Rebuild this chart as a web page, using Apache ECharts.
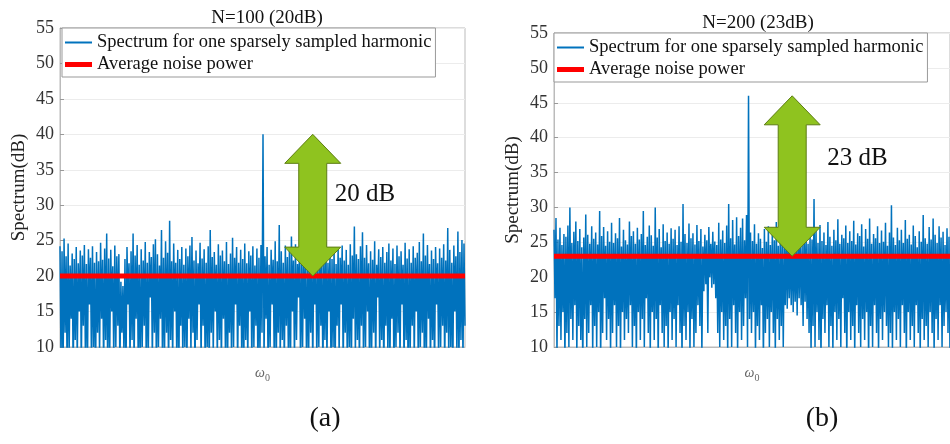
<!DOCTYPE html>
<html>
<head>
<meta charset="utf-8">
<title>Spectrum</title>
<script src="https://cdn.jsdelivr.net/npm/echarts@6/dist/echarts.min.js"></script>
<style>
  html, body { margin: 0; padding: 0; background: #fff; }
  #main { width: 950px; height: 444px; }
</style>
</head>
<body>
<div id="main"></div>
<script>
// 谱数据, 每行 20 个点
var specLeft = [
  24.2, 8, 23.5, 6, 25.3, 12, 22.8, 7, 24.6, 9, 21.5, 14, 23.2, 6, 22.4, 11, 24.1, 8, 21.8, 15,
  23.6, 7, 22.9, 13, 24.4, 9, 21.7, 6, 23.8, 16, 22.6, 8, 24.2, 10, 21.9, 5, 23.4, 12, 22.1, 9,
  24.7, 14, 22.3, 7, 23.9, 11, 26, 6, 22.5, 9, 23.7, 15, 21.4, 8, 24.3, 10, 22.8, 13, 23.1, 7,
  19.2, 12, 18.6, 9, 22.4, 6, 24.1, 16, 21.8, 8, 23.5, 11, 26, 7, 22.9, 14, 24.4, 9, 21.6, 6,
  23.8, 10, 22.2, 13, 24.8, 7, 21.9, 9, 23.4, 17, 22.7, 8, 24.5, 12, 25.2, 6, 23.1, 10, 21.5, 14,
  26.5, 7, 22.6, 9, 24.9, 12, 23.3, 6, 27.8, 11, 22.1, 8, 24.6, 15, 21.9, 9, 23.7, 5, 22.4, 13,
  24.1, 8, 21.6, 10, 23.9, 7, 22.8, 14, 24.3, 9, 25.5, 12, 22.2, 6, 23.6, 11, 21.8, 16, 24.7, 8,
  22.5, 13, 23.8, 7, 21.9, 10, 24.2, 6, 26.5, 12, 22.7, 9, 23.4, 15, 21.6, 8, 24.5, 11, 22.9, 7,
  23.6, 14, 22.1, 9, 24.8, 6, 21.7, 12, 23.2, 8, 25.4, 10, 22.6, 16, 24.1, 7, 21.9, 13, 23.7, 9,
  22.4, 6, 24.6, 11, 21.8, 8, 23.5, 15, 22.9, 7, 24.2, 10, 21.5, 13, 23.9, 6, 22.6, 9, 24.4, 12,
  40, 8, 22.8, 14, 24.1, 7, 21.6, 10, 23.7, 16, 22.3, 9, 24.9, 6, 22.1, 12, 27.2, 8, 23.5, 11,
  21.9, 7, 24.3, 13, 22.7, 9, 23.6, 6, 25.6, 15, 22.2, 8, 24.5, 11, 21.7, 17, 23.9, 7, 22.5, 10,
  24.2, 14, 21.8, 6, 23.4, 9, 22.9, 12, 24.6, 7, 22.1, 16, 23.8, 8, 21.5, 10, 24.4, 13, 22.7, 6,
  23.3, 11, 24.8, 8, 21.9, 15, 23.6, 7, 22.4, 10, 24.1, 6, 21.7, 13, 23.9, 9, 22.6, 16, 24.3, 7,
  22.2, 12, 23.7, 8, 21.6, 10, 24.5, 6, 22.9, 14, 27, 9, 23.1, 11, 22.4, 7, 24.2, 13, 26.2, 8,
  22.6, 10, 24.4, 15, 21.8, 6, 23.5, 9, 22.3, 12, 24.9, 7, 21.6, 17, 23.8, 8, 22.7, 11, 24.1, 6,
  21.9, 13, 23.4, 9, 24.6, 7, 22.2, 14, 23.9, 6, 21.7, 10, 24.3, 12, 22.8, 8, 23.5, 16, 21.6, 7,
  24.7, 11, 22.5, 6, 23.8, 9, 21.9, 13, 24.2, 8, 22.6, 15, 23.3, 7, 24.8, 10, 22.1, 12, 26, 6,
  22.9, 9, 24.4, 14, 21.7, 7, 23.6, 11, 22.4, 6, 24.1, 16, 21.8, 8, 23.9, 10, 22.6, 13, 24.5, 7,
  22.2, 12, 26.8, 8, 23.7, 10, 21.9, 6, 24.3, 15, 22.8, 9, 26.3, 7, 23.4, 11, 25.1, 8, 24.6, 13
];
var specRight = [
  26.8, 17, 28.5, 9, 25.4, 13, 27.1, 11, 24.6, 15, 26.2, 8, 25.8, 12, 27.4, 10, 30, 14, 24.9, 11,
  26.5, 16, 28, 9, 25.2, 13, 26.9, 11, 24.3, 7, 25.7, 14, 29, 10, 26.1, 12, 24.8, 16, 27.3, 9,
  25.5, 13, 26.4, 10, 24.7, 15, 29.5, 8, 25.9, 12, 27.2, 17, 24.5, 11, 26.6, 14, 25.1, 9, 27.8, 12,
  24.9, 16, 26.3, 10, 25.6, 13, 28.5, 9, 24.4, 15, 26.8, 11, 25.3, 14, 24.7, 12, 28, 16, 25.9, 10,
  26.6, 13, 24.8, 8, 27.1, 15, 25.4, 11, 26.2, 14, 29.5, 10, 24.6, 17, 25.8, 12, 27.4, 9, 26, 15,
  24.5, 11, 30, 14, 25.7, 8, 26.9, 16, 24.3, 12, 27.6, 10, 25.2, 13, 26.4, 9, 24.8, 15, 27, 11,
  25.5, 14, 26.8, 10, 24.6, 16, 27.3, 12, 25.1, 8, 30.5, 13, 26.2, 11, 24.9, 15, 27.7, 9, 25.6, 14,
  26.3, 10, 24.7, 12, 27.5, 16, 25.2, 13, 26.9, 9, 24.4, 18, 26.1, 19, 25.3, 12, 27.2, 20, 24.8, 18.5,
  26.5, 19, 25.1, 17, 24.6, 12, 27.8, 10, 25.4, 15, 26.7, 11, 24.9, 13, 27.4, 9, 30.5, 14, 25.6, 10,
  28.2, 16, 24.7, 12, 28.6, 9, 25.9, 15, 27.1, 11, 28.4, 13, 25.3, 17, 28.9, 10, 46, 14, 26.4, 12,
  25.2, 15, 27.6, 9, 24.8, 13, 26.3, 11, 25.5, 16, 24.2, 8, 26.9, 12, 25.1, 14, 27.3, 10, 24.6, 15,
  26.7, 12, 25.3, 9, 27.9, 14, 24.5, 11, 26.1, 13, 25.8, 10, 24.9, 16, 26.5, 15.5, 25.2, 17, 24.4, 16,
  26.6, 15, 25.1, 16.5, 24.7, 14.5, 26.9, 17, 25.3, 16, 24.5, 13, 27.1, 16.5, 25.6, 14, 24.8, 12, 26.2, 9,
  25.4, 13, 31.2, 10, 26.7, 15, 24.9, 11, 27.5, 8, 25.2, 14, 26.4, 12, 24.6, 16, 27.9, 10, 25.8, 13,
  24.5, 9, 26.8, 15, 25.3, 11, 28.3, 14, 24.8, 10, 26.1, 17, 25.6, 12, 27.4, 8, 24.9, 15, 26.6, 11,
  25.2, 13, 28.1, 9, 24.7, 16, 26.3, 12, 25.9, 10, 27.6, 14, 24.4, 11, 26.9, 15, 25.5, 8, 28.4, 13,
  24.8, 10, 26.2, 16, 25.6, 12, 27.3, 9, 24.9, 14, 26.7, 11, 25.1, 15, 27.8, 13, 24.5, 10, 26.4, 12,
  30.3, 9, 25.7, 15, 24.6, 11, 27.1, 14, 25.3, 10, 26.8, 16, 24.9, 12, 28.2, 8, 25.5, 15, 26.1, 11,
  24.7, 13, 27.4, 10, 25.9, 16, 24.3, 12, 26.6, 9, 25.1, 14, 28.9, 11, 25.6, 13, 24.8, 10, 27.2, 15,
  25.4, 12, 28.4, 9, 26.1, 14, 24.9, 11, 27.3, 16, 25.7, 10, 26.5, 13, 24.6, 15, 27, 12, 25.8, 9
];
var noiseLeft = 20;
var noiseRight = 23;
// 箭头: [x位置, 下端dB, 上端dB]
var arrowLeft = [249, 20, 40];
var arrowRight = [240, 23, 46];
var arrowText = ['20 dB', '23 dB'];
var titles = ['N=100 (20dB)', 'N=200 (23dB)'];
var yTicks = [10, 55, 5]; // min, max, interval
var nameSpec = 'Spectrum for one sparsely sampled harmonic';
var nameNoise = 'Average noise power';

var font = '"Liberation Serif", "Times New Roman", serif';
var myChart = echarts.init(document.getElementById('main'));

function toPairs(arr) {
  return arr.map(function (v, i) { return [i, v]; });
}
function flat(v, n) {
  return [[0, v], [n - 1, v]];
}
function arrowRender(label, dx, dy) {
  return function (params, api) {
    var top = api.coord([api.value(0), api.value(2)]);
    var bot = api.coord([api.value(0), api.value(1)]);
    var cx = top[0], hw = 28, sw = 14, hh = 29;
    var pts = [
      [cx, top[1]], [cx + hw, top[1] + hh], [cx + sw, top[1] + hh],
      [cx + sw, bot[1] - hh], [cx + hw, bot[1] - hh], [cx, bot[1]],
      [cx - hw, bot[1] - hh], [cx - sw, bot[1] - hh], [cx - sw, top[1] + hh],
      [cx - hw, top[1] + hh]
    ];
    return {
      type: 'group',
      children: [
        { type: 'polygon', shape: { points: pts },
          style: { fill: '#8fc31f', stroke: '#5d7d14', lineWidth: 1 } },
        { type: 'text', x: cx + dx, y: top[1] + dy,
          style: { text: label, fill: '#111', font: '25px ' + font, verticalAlign: 'middle' } }
      ]
    };
  };
}

function legendFor(left, top) {
  return {
    data: [
      { name: nameSpec, icon: 'path://M0,0H27V2H0Z' },
      { name: nameNoise, icon: 'path://M0,0H27V5H0Z' }
    ],
    orient: 'vertical', left: left, top: top,
    padding: [5, 4, 3, 3], itemGap: 3, itemWidth: 27, itemHeight: 14,
    backgroundColor: '#fff', borderColor: '#999', borderWidth: 1,
    textStyle: { fontFamily: font, fontSize: 18.5, color: '#111' }
  };
}

var grids = [
  { left: 60, top: 28, width: 405, height: 319 },
  { left: 554, top: 33, width: 405, height: 314 }
];
var n = specLeft.length;

option = {
  animation: false,
  title: [
    { text: titles[0], left: 262, top: 4, textAlign: 'center',
      textStyle: { fontFamily: font, fontSize: 19, fontWeight: 'normal', color: '#111' } },
    { text: titles[1], left: 753, top: 9, textAlign: 'center',
      textStyle: { fontFamily: font, fontSize: 19, fontWeight: 'normal', color: '#111' } },
    { text: '(a)', left: 320, top: 400, textAlign: 'center',
      textStyle: { fontFamily: font, fontSize: 28, fontWeight: 'normal', color: '#111' } },
    { text: '(b)', left: 817, top: 400, textAlign: 'center',
      textStyle: { fontFamily: font, fontSize: 28, fontWeight: 'normal', color: '#111' } }
  ],
  legend: [legendFor(62, 28), legendFor(554, 33)],
  grid: grids.map(function (g) {
    return Object.assign({ show: true, borderColor: '#bbb', borderWidth: 1 }, g);
  }),
  xAxis: [0, 1].map(function (i) {
    return {
      gridIndex: i, type: 'value', min: 0, max: n - 1,
      name: '{w|ω}{s|0}', nameLocation: 'middle', nameGap: 16,
      nameTextStyle: { rich: {
        w: { fontFamily: font, fontStyle: 'italic', fontSize: 14, color: '#666' },
        s: { fontFamily: font, fontSize: 10, color: '#666', padding: [10, 0, 0, 0] }
      } },
      axisLine: { lineStyle: { color: '#bbb' } },
      axisTick: { show: false }, axisLabel: { show: false }, splitLine: { show: false }
    };
  }),
  yAxis: [0, 1].map(function (i) {
    return {
      gridIndex: i, type: 'value', min: yTicks[0], max: yTicks[1], interval: yTicks[2],
      name: 'Spectrum(dB)', nameLocation: 'middle', nameGap: 31,
      nameTextStyle: { fontFamily: font, fontSize: 19, color: '#222' },
      axisLine: { show: true, lineStyle: { color: '#bbb' } },
      axisTick: { show: true, inside: true, length: 4, lineStyle: { color: '#999' } },
      axisLabel: { fontFamily: font, fontSize: 18, color: '#333', margin: 6 },
      splitLine: { lineStyle: { color: '#ececec' } }
    };
  }),
  series: [
    { name: nameSpec, type: 'line', xAxisIndex: 0, yAxisIndex: 0, data: toPairs(specLeft),
      symbol: 'none', sampling: 'none', z: 2, lineStyle: { color: '#0072bd', width: 1.5 },
      itemStyle: { color: '#0072bd' } },
    { name: nameNoise, type: 'line', xAxisIndex: 0, yAxisIndex: 0,
      data: flat(noiseLeft, n), symbol: 'none', z: 3,
      lineStyle: { color: '#ff0000', width: 5 }, itemStyle: { color: '#ff0000' } },
    { type: 'custom', xAxisIndex: 0, yAxisIndex: 0, data: [arrowLeft], z: 4,
      renderItem: arrowRender(arrowText[0], 22, 60) },
    { name: nameSpec, type: 'line', xAxisIndex: 1, yAxisIndex: 1, data: toPairs(specRight),
      symbol: 'none', sampling: 'none', z: 2, lineStyle: { color: '#0072bd', width: 1.5 },
      itemStyle: { color: '#0072bd' } },
    { name: nameNoise, type: 'line', xAxisIndex: 1, yAxisIndex: 1,
      data: flat(noiseRight, specRight.length), symbol: 'none', z: 3,
      lineStyle: { color: '#ff0000', width: 5 }, itemStyle: { color: '#ff0000' } },
    { type: 'custom', xAxisIndex: 1, yAxisIndex: 1, data: [arrowRight], z: 4,
      renderItem: arrowRender(arrowText[1], 35, 63) }
  ]
};

myChart.setOption(option);
</script>
</body>
</html>
